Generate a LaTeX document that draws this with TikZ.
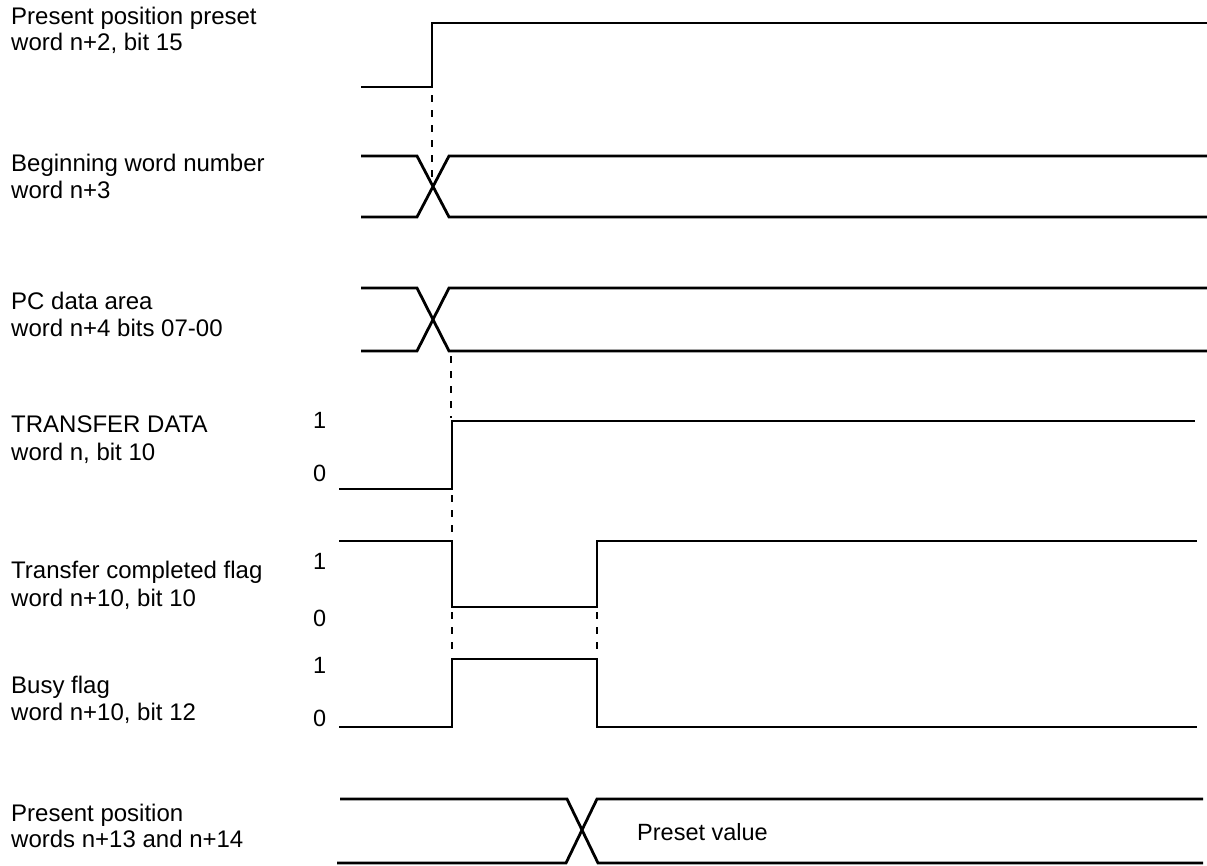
\documentclass[tikz,border=0pt]{standalone}
\usepackage{fontspec}
\setmainfont{Liberation Sans}
\begin{document}
\begin{tikzpicture}[x=1pt,y=-1pt,
  sig/.style={line width=2.8pt,line join=miter},
  guide/.style={line width=2.8pt,dash pattern=on 7pt off 8pt},
  lbl/.style={anchor=base west,inner sep=0pt,font=\fontsize{24}{27}\selectfont},
  lvl/.style={anchor=base west,inner sep=0pt,font=\fontsize{23.5}{27}\selectfont}]
\useasboundingbox (0,0) rectangle (1207,865);
% labels
\node[lbl] (l1a) at (11,24) {Present position preset};
\node[lbl] (l1b) at (11,50) {word n+2, bit 15};
\node[lbl] (l2a) at (11,171) {Beginning word number};
\node[lbl] (l2b) at (11,198) {word n+3};
\node[lbl] (l3a) at (11,309) {PC data area};
\node[lbl] (l3b) at (11,336) {word n+4 bits 07-00};
\node[lbl] (l4a) at (11,432) {TRANSFER DATA};
\node[lbl] (l4b) at (11,460) {word n, bit 10};
\node[lbl] (l5a) at (11,578) {Transfer completed flag};
\node[lbl] (l5b) at (11,606) {word n+10, bit 10};
\node[lbl] (l6a) at (11,693) {Busy flag};
\node[lbl] (l6b) at (11,720) {word n+10, bit 12};
\node[lbl] (l7a) at (11,821) {Present position};
\node[lbl] (l7b) at (11,847) {words n+13 and n+14};
% level marks
\node[lvl] (h4) at (313,428) {1};
\node[lvl] (z4) at (313,481) {0};
\node[lvl] (h5) at (313,569) {1};
\node[lvl] (z5) at (313,626) {0};
\node[lvl] (h6) at (313,673) {1};
\node[lvl] (z6) at (313,726) {0};
\node[lvl] (pv) at (637,840) {Preset value};
% signal 1
\draw[sig] (361,87) -- (432,87) -- (432,23) -- (1207,23);
\draw[guide] (432,95) -- (432,182);
% signal 2
\draw[sig] (361,156) -- (417,156) -- (449,217) -- (1207,217);
\draw[sig] (361,217) -- (417,217) -- (449,156) -- (1207,156);
% signal 3
\draw[sig] (361,288) -- (417,288) -- (449,351) -- (1207,351);
\draw[sig] (361,351) -- (417,351) -- (449,288) -- (1207,288);
\draw[guide] (451,356) -- (451,418);
% signal 4
\draw[sig] (339,489) -- (452,489) -- (452,421) -- (1195,421);
\draw[guide] (452,495) -- (452,537);
% signal 5
\draw[sig] (339,541) -- (452,541) -- (452,607) -- (597,607) -- (597,541) -- (1197,541);
\draw[guide] (452,612) -- (452,655);
\draw[guide] (597,612) -- (597,655);
% signal 6
\draw[sig] (339,727) -- (452,727) -- (452,659) -- (597,659) -- (597,727) -- (1197,727);
% signal 7
\draw[sig] (340,799) -- (567,799) -- (598,863) -- (1203,863);
\draw[sig] (337,863) -- (566,863) -- (597,799) -- (1203,799);
\end{tikzpicture}
\end{document}
